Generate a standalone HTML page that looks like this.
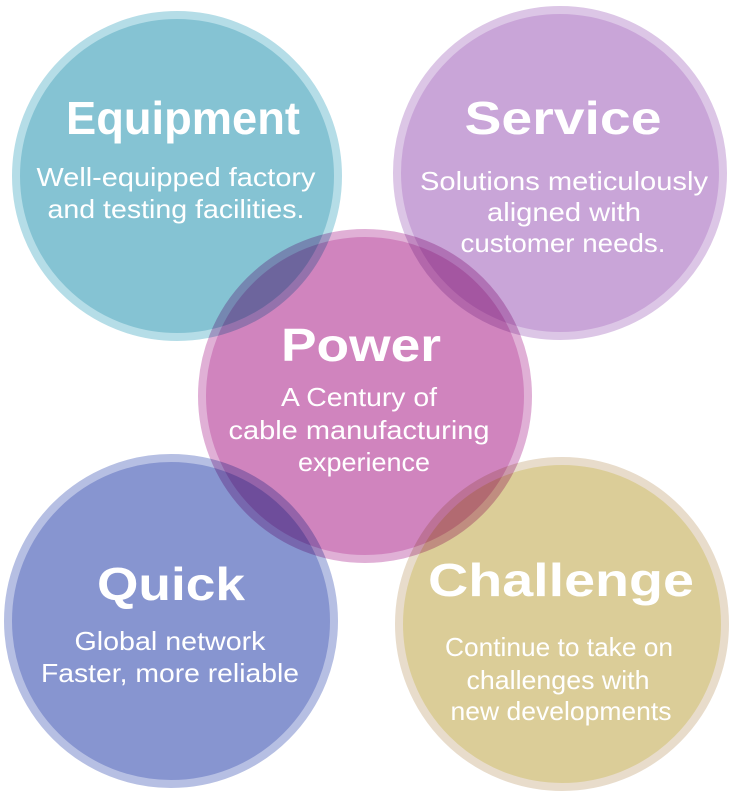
<!DOCTYPE html>
<html><head><meta charset="utf-8"><style>
html,body{margin:0;padding:0;background:#fff;width:732px;height:796px;overflow:hidden}
svg{display:block}
.c{mix-blend-mode:multiply}
.t{font-family:"Liberation Sans",sans-serif;font-weight:bold;fill:#fff;text-anchor:middle;font-size:46px}
.s{font-family:"Liberation Sans",sans-serif;fill:#fff;text-anchor:middle;font-size:26px}
</style></head><body>
<svg width="732" height="796" viewBox="0 0 732 796">
<g style="isolation:isolate">
<circle class="c" cx="177" cy="176" r="161" fill="#85c3d3" stroke="#b5dde7" stroke-width="8"/>
<circle class="c" cx="560" cy="173" r="163" fill="#c9a5d8" stroke="#dcc6e6" stroke-width="8"/>
<circle class="c" cx="171" cy="621" r="163" fill="#8795d0" stroke="#b6bfe3" stroke-width="8"/>
<circle class="c" cx="562" cy="624" r="163" fill="#dbcd98" stroke="#e8dccb" stroke-width="8"/>
<circle class="c" cx="365" cy="396" r="163" fill="#d084be" stroke="#e0b0d6" stroke-width="8"/>
</g>
<g lengthAdjust="spacingAndGlyphs">
<text class="t" x="183" y="134" textLength="234" lengthAdjust="spacingAndGlyphs">Equipment</text>
<text class="s" x="176" y="186" textLength="279" lengthAdjust="spacingAndGlyphs">Well-equipped factory</text>
<text class="s" x="176" y="218" textLength="257" lengthAdjust="spacingAndGlyphs">and testing facilities.</text>
<text class="t" x="563" y="134" textLength="197" lengthAdjust="spacingAndGlyphs">Service</text>
<text class="s" x="564" y="190" textLength="288" lengthAdjust="spacingAndGlyphs">Solutions meticulously</text>
<text class="s" x="564" y="221" textLength="154" lengthAdjust="spacingAndGlyphs">aligned with</text>
<text class="s" x="563" y="252" textLength="205" lengthAdjust="spacingAndGlyphs">customer needs.</text>
<text class="t" x="361" y="361" textLength="160" lengthAdjust="spacingAndGlyphs">Power</text>
<text class="s" x="359" y="406" textLength="156" lengthAdjust="spacingAndGlyphs">A Century of</text>
<text class="s" x="359" y="439" textLength="261" lengthAdjust="spacingAndGlyphs">cable manufacturing</text>
<text class="s" x="364" y="471" textLength="132" lengthAdjust="spacingAndGlyphs">experience</text>
<text class="t" x="171" y="600" textLength="148" lengthAdjust="spacingAndGlyphs">Quick</text>
<text class="s" x="170" y="650" textLength="191" lengthAdjust="spacingAndGlyphs">Global network</text>
<text class="s" x="170" y="682" textLength="258" lengthAdjust="spacingAndGlyphs">Faster, more reliable</text>
<text class="t" x="561" y="596" textLength="266" lengthAdjust="spacingAndGlyphs">Challenge</text>
<text class="s" x="559" y="656" textLength="228" lengthAdjust="spacingAndGlyphs">Continue to take on</text>
<text class="s" x="558" y="689" textLength="183" lengthAdjust="spacingAndGlyphs">challenges with</text>
<text class="s" x="561" y="720" textLength="221" lengthAdjust="spacingAndGlyphs">new developments</text>
</g>
</svg>
</body></html>
